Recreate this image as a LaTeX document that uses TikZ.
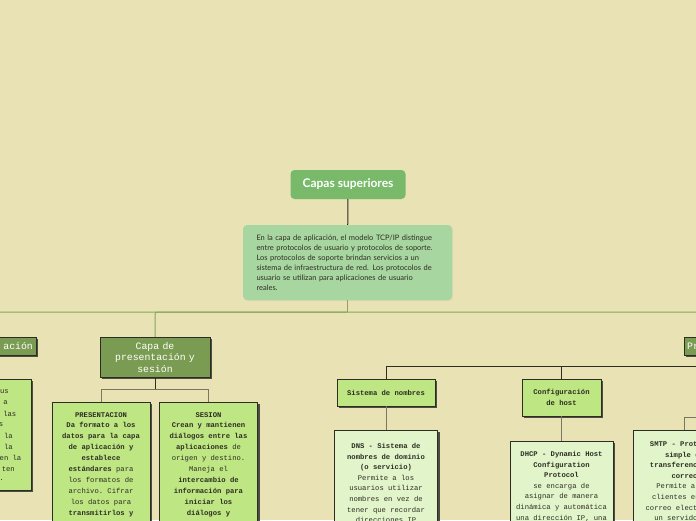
\documentclass[tikz,border=0pt]{standalone}
\usepackage{fontspec}
\setmainfont{Lato}
\setmonofont{Liberation Mono}
\usetikzlibrary{positioning,shadows}
\definecolor{csPaper}{RGB}{232,226,180}
\definecolor{csTop}{RGB}{120,186,106}
\definecolor{csNote}{RGB}{168,214,160}
\definecolor{csDark}{RGB}{122,156,82}
\definecolor{csLeaf}{RGB}{190,230,130}
\definecolor{csPale}{RGB}{226,245,202}
\definecolor{csInk}{RGB}{45,45,35}
\definecolor{csWire}{RGB}{135,168,90}
\definecolor{csGray}{RGB}{120,120,98}
\newcommand{\leaftext}[2]{\parbox[t][150pt][t]{#1}{\centering #2}}
\tikzset{
    base/.style={align=center},
    boxshadow/.style={drop shadow={fill=black!80, opacity=0.85, shadow xshift=2pt, shadow yshift=-2pt}},
    headbox/.style={base, rectangle, rounded corners=4pt, fill=csTop, text=white,
                    font=\fontsize{12}{14}\selectfont\bfseries, minimum width=115pt, minimum height=29pt},
    notebox/.style={rectangle, rounded corners=4pt, fill=csNote, text=csInk, align=left,
                    font=\fontsize{7.5}{10}\selectfont, text width=182pt, inner xsep=13.5pt, minimum height=75pt,
                    drop shadow={opacity=0.12, shadow xshift=1pt, shadow yshift=-1pt}},
    layerbox/.style={base, rectangle, draw=csInk, fill=csDark, text=white, inner sep=3pt,
                     font=\ttfamily\fontsize{9.8}{11.5}\selectfont, boxshadow},
    topic/.style={base, rectangle, draw=csInk, fill=csLeaf, text=csInk,
                  font=\ttfamily\fontsize{7.2}{10.9}\selectfont, boxshadow},
    leaf/.style={topic, anchor=north, inner xsep=3pt, inner ysep=10pt},
    pale/.style={leaf, fill=csPale, font=\ttfamily\fontsize{7.2}{10.6}\selectfont},
    plain/.style={csInk, line width=1pt},
    wire/.style={csWire, line width=1pt, rounded corners=2pt},
    link/.style={csGray, line width=0.9pt}
}
\begin{document}
\begin{tikzpicture}[x=1pt, y=-1pt]
  \clip (0,0) rectangle (696,520);
  \fill[csPaper] (0,0) rectangle (696,520);

  % Root and introduction
  \node[headbox] (top) at (348,184.5) {Capas superiores};
  \node[notebox] (intro) at (347.5,262.5) {En la capa de aplicación, el modelo TCP/IP distingue\\
    entre protocolos de usuario y protocolos de soporte.\\
    Los protocolos de soporte brindan servicios a un\\
    sistema de infraestructura de red. Los protocolos de\\
    usuario se utilizan para aplicaciones de usuario\\
    reales.};

  % Layers
  \node[layerbox, anchor=east, text width=90pt, align=right, minimum height=18pt] (apli) at (36,346) {ación};
  \node[layerbox, text width=104pt, minimum height=40pt] (pres) at (155,357) {Capa de\\presentación y\\sesión};
  \node[layerbox, anchor=west, text width=90pt, align=left, minimum height=18pt] (prot) at (684,346) {Pr};

  % Cut-off box on the left
  \node[topic, anchor=north east, minimum width=100pt, minimum height=111pt] (apliinfo) at (31,379) {};
  \foreach \word/\xr/\yc [count=\i] in {us/9/392, a/8/403, las/16.5/413.5, s/3.5/424.5, la/13/435.5,
                                        la/13/446.5, en la/21.5/458, ten/15/469, ./4/480} {
    \node[anchor=east, inner sep=0pt, text=csInk, font=\ttfamily\fontsize{7.2}{9}\selectfont] (frag\i) at (\xr,\yc) {\word};
  }

  % Presentation and session
  \node[leaf] (presen) at (101,402) {\leaftext{92pt}{\bfseries PRESENTACION\\ Da formato a los\\ datos para la capa\\
    de aplicación y\\ establece\\ estándares \mdseries para\\ los formatos de\\ archivo. Cifrar\\ los datos para\\
    \bfseries transmitirlos y}};
  \node[leaf] (sesion) at (208.5,402) {\leaftext{92pt}{\bfseries SESION\\ Crean y mantienen\\ diálogos entre las\\
    aplicaciones \mdseries de\\ origen y destino.\\ Maneja el\\ \bfseries intercambio de\\ información para\\
    iniciar los\\ diálogos y}};

  % Support protocols
  \node[topic, minimum width=98pt, minimum height=27pt] (names) at (386,392.5) {\bfseries Sistema de nombres};
  \node[topic, minimum width=79pt, minimum height=37pt] (host) at (561.5,397.5) {\bfseries Configuración\\ \bfseries de host};
  \node[pale, inner ysep=13pt] (dns) at (386,430) {\leaftext{97pt}{\bfseries DNS - Sistema de\\ nombres de dominio\\ (o servicio)\\
    \mdseries Permite a los\\ usuarios utilizar\\ nombres en vez de\\ tener que recordar\\ direcciones IP}};
  \node[pale] (dhcp) at (561.5,441) {\leaftext{97pt}{\bfseries DHCP - Dynamic Host\\ Configuration\\ Protocol\\
    \mdseries se encarga de\\ asignar de manera\\ dinámica y automática\\ una dirección IP, una}};
  \node[pale, inner ysep=11pt] (smtp) at (684.5,430) {\leaftext{97pt}{\bfseries SMTP - Protocolo\\ simple de\\ transferencia de\\ correo\\
    \mdseries Permite a los\\ clientes enviar\\ correo electrónico\\ un servidor de}};
  \coordinate (mailhub) at (760,417);

  % Connectors
  \draw[plain] (top) -- (intro);
  \draw[wire] (intro.south) -- ++(0,12) coordinate (bus);
  \draw[wire] (bus) -| (apli.north);
  \draw[wire] (bus) -| (pres.north);
  \draw[wire] (bus) -| (prot.north);
  \draw[plain] (pres.south) -- ++(0,12) coordinate (presbus);
  \draw[link] (presbus) -| (presen.north);
  \draw[link] (presbus) -| (sesion.north);
  \draw[plain] (prot.south) -- ++(0,11) coordinate (protbus);
  \draw[plain] (protbus) -| (names.north);
  \draw[plain] (protbus) -| (host.north);
  \draw[link] (names) -- (dns);
  \draw[link] (host) -- (dhcp);
  \draw[link] (mailhub) -| (smtp.north);
\end{tikzpicture}
\end{document}
